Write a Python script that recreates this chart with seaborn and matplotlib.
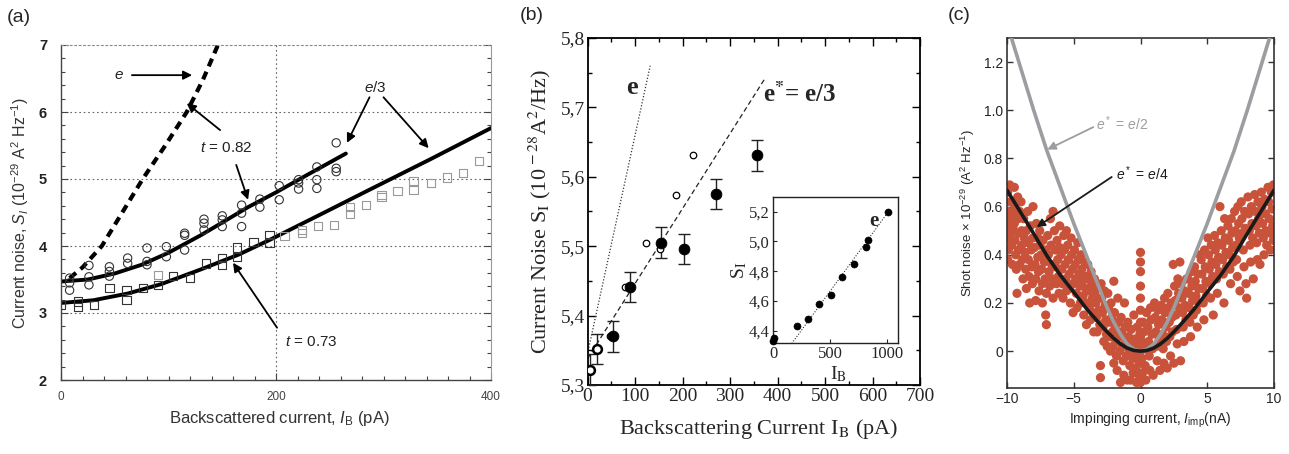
import matplotlib
matplotlib.use("Agg")
import matplotlib.pyplot as plt
import seaborn as sns
from matplotlib.ticker import MultipleLocator

sns.set_style("ticks")
plt.rcParams['font.family'] = ['Liberation Sans', 'DejaVu Sans']
plt.rcParams['mathtext.fontset'] = 'custom'
plt.rcParams['mathtext.rm'] = 'Liberation Sans'
plt.rcParams['mathtext.it'] = 'Liberation Sans:italic'
plt.rcParams['mathtext.bf'] = 'Liberation Sans:bold'

# ---------------- Panel (a) data ----------------
a_e_I = [8, 20, 38, 57, 76, 97, 117, 132, 146]
a_e_S = [3.52, 3.68, 4.0, 4.5, 5.0, 5.5, 6.0, 6.48, 7.0]
a_t82_I = [0, 25, 50, 75, 100, 130, 150, 174, 200, 230, 265]
a_t82_S = [3.47, 3.50, 3.59, 3.72, 3.90, 4.16, 4.35, 4.58, 4.80, 5.07, 5.38]
a_t73_I = [0, 30, 62, 93, 130, 165, 194, 245, 287, 343, 400]
a_t73_S = [3.15, 3.19, 3.29, 3.43, 3.65, 3.87, 4.09, 4.50, 4.84, 5.29, 5.76]
a_circ_I = [8, 8, 8, 26, 26, 26, 45, 45, 45, 62, 62, 80, 80, 80, 98, 98,
            115, 115, 115, 133, 133, 133, 150, 150, 150, 168, 168, 168,
            185, 185, 203, 203, 221, 221, 221, 238, 238, 238, 256, 256, 256]
a_circ_S = [3.52, 3.34, 3.45, 3.71, 3.54, 3.42, 3.69, 3.62, 3.55, 3.82, 3.74,
            3.97, 3.77, 3.72, 3.99, 3.84, 4.19, 4.16, 3.94, 4.40, 4.34, 4.24,
            4.45, 4.39, 4.29, 4.61, 4.49, 4.29, 4.70, 4.58, 4.90, 4.69,
            4.99, 4.94, 4.85, 5.18, 4.99, 4.86, 5.54, 5.16, 5.11]
a_sq_I = [0, 16, 16, 31, 45, 61, 61, 76, 90, 104, 120, 135, 150, 150,
          164, 164, 179, 194, 194]
a_sq_S = [3.12, 3.17, 3.09, 3.12, 3.37, 3.34, 3.19, 3.37, 3.42, 3.55, 3.52,
          3.74, 3.82, 3.72, 3.98, 3.84, 4.06, 4.16, 4.05]
a_sqf_I = [90, 208, 224, 224, 239, 254, 269, 269, 284, 298, 298, 313, 328,
           328, 344, 359, 374, 389]
a_sqf_S = [3.57, 4.15, 4.19, 4.24, 4.30, 4.31, 4.58, 4.48, 4.61, 4.76, 4.73,
           4.82, 4.97, 4.84, 4.94, 5.02, 5.09, 5.27]
a_xticks = [0, 200, 400]
a_yticks = [2, 3, 4, 5, 6, 7]
a_grid_y = [3, 4, 5, 6]
a_grid_x = [200]

# ---------------- Panel (b) data ----------------
b_fill_I = [54, 89.5, 154, 203, 270, 356]
b_fill_S = [5.370, 5.441, 5.505, 5.496, 5.575, 5.631]
b_fill_err = [0.022, 0.022, 0.022, 0.022, 0.022, 0.022]
b_bold_I = [5, 21]
b_bold_S = [5.322, 5.352]
b_bold_err = [0.022, 0.022]
b_open_I = [47, 79, 122.5, 152, 186, 223]
b_open_S = [5.370, 5.441, 5.505, 5.496, 5.574, 5.632]
b_e_I = [0, 132]
b_e_S = [5.345, 5.76]
b_e3_I = [0, 372]
b_e3_S = [5.338, 5.74]
b_xticks = [0, 100, 200, 300, 400, 500, 600, 700]
b_yticks = [5.3, 5.4, 5.5, 5.6, 5.7, 5.8]
b_yticklabels = ["5,3", "5,4", "5,5", "5,6", "5,7", "5,8"]
ins_I = [0, 5, 206, 308, 405, 507, 607, 713, 814, 837, 1013]
ins_S = [4.335, 4.35, 4.43, 4.48, 4.58, 4.64, 4.76, 4.85, 4.96, 5.01, 5.20]
ins_line_I = [162, 1013]
ins_line_S = [4.315, 5.2]
ins_xticks = [0, 500, 1000]
ins_yticks = [4.4, 4.6, 4.8, 5.0, 5.2]
ins_yticklabels = ["4,4", "4,6", "4,8", "5,0", "5,2"]

# ---------------- Panel (c) data ----------------
c_curve_x = [-10, -9, -8, -7, -6, -5, -4, -3, -2.5, -2, -1.5, -1, -0.5, 0,
             0.5, 1, 1.5, 2, 2.5, 3, 4, 5, 6, 7, 8, 9, 10]
c_e4 = [0.668, 0.578, 0.488, 0.395, 0.315, 0.245, 0.173, 0.11, 0.08, 0.053,
        0.03, 0.013, 0.003, 0.0, 0.003, 0.013, 0.03, 0.053, 0.08, 0.11,
        0.173, 0.245, 0.315, 0.395, 0.488, 0.578, 0.668]
c_e2 = [1.36, 1.18, 1.0, 0.83, 0.68, 0.53, 0.39, 0.25, 0.18, 0.12, 0.07,
        0.03, 0.008, 0.0, 0.008, 0.03, 0.07, 0.12, 0.18, 0.25, 0.39, 0.53,
        0.68, 0.83, 1.0, 1.18, 1.36]
c_pts = [
    (-9.95, 0.66), (-9.9, 0.58), (-9.92, 0.52), (-9.95, 0.47), (-9.9, 0.42), (-9.95, 0.38),
    (-9.8, 0.69), (-9.75, 0.62), (-9.7, 0.55), (-9.7, 0.49), (-9.65, 0.44), (-9.6, 0.62),
    (-9.55, 0.57), (-9.55, 0.51), (-9.6, 0.36),
    (-9.45, 0.68), (-9.4, 0.6), (-9.45, 0.53), (-9.4, 0.46), (-9.35, 0.4), (-9.25, 0.24),
    (-9.3, 0.34), (-9.2, 0.64), (-9.15, 0.55), (-9.1, 0.49), (-9.15, 0.42), (-9.05, 0.58),
    (-9.05, 0.36),
    (-8.95, 0.62), (-8.9, 0.5), (-8.9, 0.44), (-8.85, 0.38), (-8.8, 0.3), (-8.75, 0.55),
    (-8.7, 0.47), (-8.65, 0.41), (-8.6, 0.34), (-8.55, 0.5), (-8.55, 0.26),
    (-8.45, 0.58), (-8.4, 0.45), (-8.4, 0.38), (-8.35, 0.31), (-8.3, 0.2), (-8.25, 0.52),
    (-8.2, 0.42), (-8.15, 0.35), (-8.1, 0.28), (-8.05, 0.6), (-8.05, 0.47),
    (-7.95, 0.43), (-7.9, 0.36), (-7.85, 0.3), (-7.85, 0.21), (-7.8, 0.53), (-7.7, 0.47),
    (-7.7, 0.39), (-7.65, 0.33), (-7.6, 0.25), (-7.55, 0.44), (-7.55, 0.5),
    (-7.45, 0.4), (-7.4, 0.34), (-7.35, 0.28), (-7.35, 0.2), (-7.3, 0.46), (-7.2, 0.37),
    (-7.15, 0.3), (-7.1, 0.15), (-7.05, 0.11), (-7.1, 0.42), (-7.05, 0.24),
    (-6.95, 0.48), (-6.9, 0.4), (-6.85, 0.33), (-6.8, 0.27), (-6.75, 0.55), (-6.7, 0.44),
    (-6.65, 0.36), (-6.6, 0.3), (-6.55, 0.58), (-6.55, 0.22),
    (-6.45, 0.5), (-6.4, 0.42), (-6.35, 0.35), (-6.3, 0.28), (-6.25, 0.46), (-6.2, 0.38),
    (-6.15, 0.31), (-6.1, 0.24), (-6.05, 0.52), (-6.05, 0.43),
    (-5.95, 0.4), (-5.9, 0.34), (-5.85, 0.28), (-5.8, 0.22), (-5.75, 0.48), (-5.7, 0.42),
    (-5.65, 0.36), (-5.6, 0.3), (-5.55, 0.25), (-5.55, 0.5),
    (-5.45, 0.44), (-5.4, 0.38), (-5.35, 0.32), (-5.3, 0.26), (-5.25, 0.2), (-5.2, 0.47),
    (-5.15, 0.4), (-5.1, 0.34), (-5.05, 0.28), (-5.05, 0.16),
    (-4.95, 0.42), (-4.9, 0.36), (-4.85, 0.3), (-4.8, 0.24), (-4.75, 0.18), (-4.7, 0.45),
    (-4.65, 0.38), (-4.6, 0.32), (-4.55, 0.27), (-4.5, 0.2),
    (-4.45, 0.4), (-4.4, 0.34), (-4.35, 0.29), (-4.3, 0.23), (-4.25, 0.15), (-4.2, 0.37),
    (-4.15, 0.31), (-4.1, 0.26), (-4.05, 0.2), (-4.05, 0.11),
    (-3.95, 0.36), (-3.9, 0.3), (-3.85, 0.25), (-3.8, 0.19), (-3.75, 0.13), (-3.7, 0.33),
    (-3.65, 0.28), (-3.6, 0.22), (-3.55, 0.16), (-3.5, 0.08),
    (-3.45, 0.3), (-3.4, 0.25), (-3.35, 0.2), (-3.3, 0.14), (-3.25, 0.08), (-3.2, 0.27),
    (-3.15, 0.22), (-3.1, 0.17), (-3.05, 0.11), (-3.0, -0.06), (-3.0, -0.11),
    (-2.95, 0.28), (-2.9, 0.22), (-2.85, 0.16), (-2.8, 0.1), (-2.75, 0.04), (-2.7, 0.25),
    (-2.65, 0.19), (-2.6, 0.13), (-2.55, 0.07), (-2.5, 0.02),
    (-2.45, 0.24), (-2.4, 0.18), (-2.35, 0.12), (-2.3, 0.06), (-2.25, 0.0), (-2.2, 0.2),
    (-2.15, 0.14), (-2.1, 0.08), (-2.05, 0.02), (-2.0, 0.29), (-2.0, -0.05),
    (-1.95, 0.16), (-1.9, 0.1), (-1.85, 0.04), (-1.8, -0.02), (-1.75, -0.08), (-1.7, 0.22),
    (-1.65, 0.12), (-1.6, 0.06), (-1.55, 0.0), (-1.5, -0.13),
    (-1.45, 0.14), (-1.4, 0.08), (-1.35, 0.02), (-1.3, -0.04), (-1.25, -0.1), (-1.2, 0.2),
    (-1.15, 0.1), (-1.1, 0.04), (-1.05, -0.02), (-1.0, -0.12),
    (-0.95, 0.12), (-0.9, 0.06), (-0.85, 0.0), (-0.8, -0.06), (-0.75, -0.12), (-0.7, 0.09),
    (-0.65, 0.03), (-0.6, -0.03), (-0.55, -0.09), (-0.5, 0.15),
    (-0.45, 0.05), (-0.4, -0.01), (-0.35, -0.07), (-0.3, -0.13), (-0.25, 0.1), (-0.2, 0.02),
    (-0.15, -0.04), (-0.1, -0.1), (-0.05, 0.07),
    (0, 0.41), (0, 0.37), (0, 0.33), (0, 0.27), (0, 0.22), (0, 0.17), (0, 0.12), (0, 0.06),
    (0, 0.0), (0, -0.05), (0, -0.1), (0, -0.13),
    (0.05, 0.04), (0.1, -0.03), (0.15, -0.09), (0.2, 0.12), (0.25, 0.08), (0.3, 0.01),
    (0.35, -0.06), (0.4, -0.12), (0.45, 0.16),
    (0.55, 0.1), (0.6, 0.04), (0.65, -0.02), (0.7, -0.08), (0.75, 0.18), (0.8, 0.13),
    (0.85, 0.07), (0.9, 0.01), (0.95, -0.1),
    (1.05, 0.2), (1.1, 0.14), (1.15, 0.08), (1.2, 0.02), (1.25, -0.04), (1.3, 0.17),
    (1.35, 0.11), (1.4, 0.05), (1.45, -0.08),
    (1.55, 0.19), (1.6, 0.13), (1.65, 0.07), (1.7, 0.01), (1.75, -0.05), (1.8, 0.22),
    (1.85, 0.16), (1.9, 0.1), (1.95, 0.04), (2.0, -0.07),
    (2.05, 0.24), (2.1, 0.18), (2.15, 0.12), (2.2, 0.06), (2.25, -0.02), (2.3, 0.2),
    (2.35, 0.14), (2.4, 0.08), (2.45, 0.36), (2.5, -0.05),
    (2.55, 0.27), (2.6, 0.21), (2.65, 0.15), (2.7, 0.09), (2.75, 0.03), (2.8, 0.3),
    (2.85, 0.24), (2.9, 0.18), (2.95, 0.37), (3.0, -0.04),
    (3.05, 0.28), (3.1, 0.22), (3.15, 0.16), (3.2, 0.1), (3.25, 0.04), (3.3, 0.25),
    (3.35, 0.19), (3.4, 0.13), (3.45, 0.3),
    (3.55, 0.3), (3.6, 0.24), (3.65, 0.18), (3.7, 0.12), (3.75, 0.06), (3.8, 0.33),
    (3.85, 0.27), (3.9, 0.21), (3.95, 0.15),
    (4.05, 0.35), (4.1, 0.29), (4.15, 0.23), (4.2, 0.17), (4.25, 0.1), (4.3, 0.32),
    (4.35, 0.26), (4.4, 0.2), (4.45, 0.4),
    (4.55, 0.38), (4.6, 0.32), (4.65, 0.26), (4.7, 0.2), (4.75, 0.13), (4.8, 0.42),
    (4.85, 0.35), (4.9, 0.29), (4.95, 0.23),
    (5.05, 0.47), (5.1, 0.4), (5.15, 0.34), (5.2, 0.28), (5.25, 0.22), (5.3, 0.44),
    (5.35, 0.37), (5.4, 0.31), (5.45, 0.15),
    (5.55, 0.48), (5.6, 0.42), (5.65, 0.36), (5.7, 0.3), (5.75, 0.24), (5.8, 0.45),
    (5.85, 0.39), (5.9, 0.33), (5.95, 0.6),
    (6.05, 0.5), (6.1, 0.44), (6.15, 0.38), (6.2, 0.32), (6.25, 0.2), (6.3, 0.55),
    (6.35, 0.47), (6.4, 0.41), (6.45, 0.35),
    (6.55, 0.52), (6.6, 0.46), (6.65, 0.4), (6.7, 0.34), (6.75, 0.28), (6.8, 0.55),
    (6.85, 0.49), (6.9, 0.43), (6.95, 0.37),
    (7.05, 0.58), (7.1, 0.5), (7.15, 0.44), (7.2, 0.38), (7.25, 0.31), (7.3, 0.6),
    (7.35, 0.53), (7.4, 0.47), (7.45, 0.25),
    (7.55, 0.62), (7.6, 0.55), (7.65, 0.49), (7.7, 0.42), (7.75, 0.35), (7.8, 0.58),
    (7.85, 0.51), (7.9, 0.28), (7.95, 0.22),
    (8.05, 0.64), (8.1, 0.57), (8.15, 0.5), (8.2, 0.44), (8.25, 0.37), (8.3, 0.6),
    (8.35, 0.53), (8.4, 0.47), (8.45, 0.3),
    (8.55, 0.65), (8.6, 0.58), (8.65, 0.52), (8.7, 0.45), (8.75, 0.38), (8.8, 0.62),
    (8.85, 0.55), (8.9, 0.49), (8.95, 0.36),
    (9.05, 0.66), (9.1, 0.6), (9.15, 0.53), (9.2, 0.47), (9.25, 0.4), (9.3, 0.63),
    (9.35, 0.57), (9.4, 0.5), (9.45, 0.44),
    (9.55, 0.68), (9.6, 0.62), (9.65, 0.55), (9.7, 0.49), (9.75, 0.42), (9.8, 0.66),
    (9.85, 0.59), (9.9, 0.52), (9.95, 0.46), (9.95, 0.69),
]
c_pts_x = [p[0] for p in c_pts]
c_pts_y = [p[1] for p in c_pts]
c_xticks = [-10, -5, 0, 5, 10]
c_xticklabels = ["\u221210", "\u22125", "0", "5", "10"]
c_yticks = [0, 0.2, 0.4, 0.6, 0.8, 1.0, 1.2]
c_yticklabels = ["0", "0.2", "0.4", "0.6", "0.8", "1.0", "1.2"]

# ---------------- Figure ----------------
W, H = 1289, 454
fig = plt.figure(figsize=(W / 100, H / 100), dpi=100)


def box(l, t, r, b):
    return [l / W, 1 - b / H, (r - l) / W, (b - t) / H]


# ================= Panel (a) =================
ax = fig.add_axes(box(61, 45, 491, 380))
ax.set_xlim(0, 400)
ax.set_ylim(2, 7)
for yv in a_grid_y:
    ax.axhline(yv, color='#666666', lw=0.8, ls=(0, (1.5, 2.5)), zorder=0)
for xv in a_grid_x:
    ax.axvline(xv, color='#666666', lw=0.8, ls=(0, (1.5, 2.5)), zorder=0)
sns.lineplot(x=a_e_I, y=a_e_S, ax=ax, color='black', lw=3.0,
             linestyle=(0, (2.0, 1.4)), sort=False)
sns.lineplot(x=a_t82_I, y=a_t82_S, ax=ax, color='black', lw=2.8)
sns.lineplot(x=a_t73_I, y=a_t73_S, ax=ax, color='black', lw=2.8)
sns.scatterplot(x=a_circ_I, y=a_circ_S, ax=ax, marker='o', s=36,
                fc='none', ec='#333333', linewidth=0.8, zorder=3)
sns.scatterplot(x=a_sq_I, y=a_sq_S, ax=ax, marker='s', s=36,
                fc='none', ec='#333333', linewidth=0.8, zorder=3)
sns.scatterplot(x=a_sqf_I, y=a_sqf_S, ax=ax, marker='s', s=36,
                fc='none', ec='#999999', linewidth=0.8, zorder=3)
ax.set_xticks(a_xticks)
ax.set_yticks(a_yticks)
ax.xaxis.set_minor_locator(MultipleLocator(20))
ax.yaxis.set_minor_locator(MultipleLocator(0.2))
ax.tick_params(which='both', direction='in', left=True, right=True,
               bottom=True, top=False, color='#444444', width=0.8)
ax.tick_params(which='major', length=5)
ax.tick_params(which='minor', length=3)
ax.tick_params(axis='y', labelsize=10.5, pad=10, labelcolor='#222222')
ax.tick_params(axis='x', labelsize=8.5, pad=8, labelcolor='#444444')
for lbl in ax.get_yticklabels():
    lbl.set_fontweight('bold')
for s in ['left', 'bottom']:
    ax.spines[s].set_color('#444444')
    ax.spines[s].set_linewidth(1.0)
ax.spines['right'].set_color('#999999')
ax.spines['right'].set_linewidth(0.8)
ax.spines['top'].set_color('#888888')
ax.spines['top'].set_linewidth(0.8)
ax.spines['top'].set_linestyle((0, (1.5, 2.5)))
ax.set_xlabel("Backscattered current, $I_\\mathrm{B}$ (pA)", fontsize=12,
              color='#333333')
ax.set_ylabel("Current noise, $S_I$ (10$^{-29}$ A$^2$ Hz$^{-1}$)", fontsize=11.5,
              color='#333333')
ax.xaxis.set_label_coords(0.507, -0.088)
ax.yaxis.set_label_coords(-0.07, 0.5)

arw = dict(arrowstyle='-|>', color='black', lw=1.3, mutation_scale=13,
           shrinkA=0, shrinkB=0)
ax.text(54, 6.55, "$e$", fontsize=11, ha='center', va='center', color='#222222')
ax.annotate("", xy=(122, 6.55), xytext=(66, 6.55), arrowprops=arw)
ax.text(292, 6.36, "$e$/3", fontsize=11, ha='center', va='center', color='#222222')
ax.annotate("", xy=(266, 5.54), xytext=(287, 6.22), arrowprops=arw)
ax.annotate("", xy=(342, 5.46), xytext=(300, 6.22), arrowprops=arw)
ax.text(154, 5.46, "$t$ = 0.82", fontsize=11, ha='center', va='center', color='#222222')
ax.annotate("", xy=(117, 6.13), xytext=(148, 5.73), arrowprops=arw)
ax.annotate("", xy=(174, 4.69), xytext=(163, 5.21), arrowprops=arw)
ax.text(233, 2.57, "$t$ = 0.73", fontsize=11, ha='center', va='center', color='#222222')
ax.annotate("", xy=(160, 3.75), xytext=(201, 2.78), arrowprops=arw)
fig.text(7 / W, 1 - 17 / H, "(a)", fontsize=14, ha='left', va='center')

# ================= Panel (b) =================
serif = ['Liberation Serif', 'DejaVu Serif']
axb = fig.add_axes(box(587.5, 38, 920, 385))
axb.set_xlim(0, 700)
axb.set_ylim(5.3, 5.8)
sns.lineplot(x=b_e_I, y=b_e_S, ax=axb, color='#333333', lw=0.9,
             linestyle=(0, (1, 1.5)))
sns.lineplot(x=b_e3_I, y=b_e3_S, ax=axb, color='#222222', lw=0.9,
             linestyle=(0, (4, 2.5)))
axb.errorbar(b_fill_I, b_fill_S, yerr=b_fill_err, fmt='none', ecolor='#222222',
             elinewidth=1.0, capsize=4, capthick=1.0, zorder=3)
axb.errorbar(b_bold_I, b_bold_S, yerr=b_bold_err, fmt='none', ecolor='#222222',
             elinewidth=1.0, capsize=4, capthick=1.0, zorder=3)
sns.scatterplot(x=b_open_I, y=b_open_S, ax=axb, marker='o', s=22,
                fc='white', ec='black', linewidth=0.9, zorder=4)
sns.scatterplot(x=b_fill_I, y=b_fill_S, ax=axb, marker='o', s=60,
                color='black', ec='black', zorder=5)
sns.scatterplot(x=b_bold_I, y=b_bold_S, ax=axb, marker='o', s=40,
                fc='white', ec='black', linewidth=1.8, zorder=5)
axb.set_xticks(b_xticks)
axb.set_yticks(b_yticks)
axb.set_yticklabels(b_yticklabels)
axb.xaxis.set_minor_locator(MultipleLocator(50))
axb.yaxis.set_minor_locator(MultipleLocator(0.05))
axb.tick_params(which='both', direction='in', top=True, right=True,
                left=True, bottom=True, width=1.0, color='black')
axb.tick_params(which='major', length=6)
axb.tick_params(which='minor', length=3)
axb.tick_params(axis='both', labelsize=14, pad=2)
for lbl in axb.get_xticklabels() + axb.get_yticklabels():
    lbl.set_family(serif)
for s in axb.spines.values():
    s.set_linewidth(1.3)
    s.set_color('black')
axb.set_xlabel("Backscattering Current I$_\\mathrm{B}$ (pA)", fontsize=16,
               family=serif, math_fontfamily='stix')
axb.set_ylabel("Current Noise S$_\\mathrm{I}$ (10$^{\\,-28}$A$^2$/Hz)", fontsize=16,
               family=serif, math_fontfamily='stix')
axb.xaxis.set_label_coords(0.513, -0.093)
axb.yaxis.set_label_coords(-0.105, 0.5)
axb.text(93, 5.729, "e", fontsize=19, fontweight='bold', family=serif,
         ha='center', va='center')
axb.text(370, 5.718, "e$^{\\mathbf{*}}$= e/3", fontsize=18, fontweight='bold',
         family=serif, math_fontfamily='stix', ha='left', va='center')
fig.text(520 / W, 1 - 15 / H, "(b)", fontsize=14, ha='left', va='center')

# inset
axi = fig.add_axes(box(772.7, 196.7, 898.3, 343.3))
axi.set_xlim(-5, 1100)
axi.set_ylim(4.317, 5.30)
sns.lineplot(x=ins_line_I, y=ins_line_S, ax=axi, color='#333333', lw=0.8,
             linestyle=(0, (1, 1.5)))
sns.scatterplot(x=ins_I, y=ins_S, ax=axi, marker='o', s=26, color='black',
                ec='black', zorder=4, clip_on=False)
axi.set_xticks(ins_xticks)
axi.set_yticks(ins_yticks)
axi.set_yticklabels(ins_yticklabels)
axi.tick_params(which='both', direction='in', length=3, width=0.8,
                labelsize=12, pad=2)
for lbl in axi.get_xticklabels() + axi.get_yticklabels():
    lbl.set_family(serif)
for s in axi.spines.values():
    s.set_linewidth(1.0)
    s.set_color('#222222')
axi.set_xlabel("I$_\\mathrm{B}$", fontsize=14, family=serif, math_fontfamily='stix')
axi.set_ylabel("S$_\\mathrm{I}$", fontsize=14, family=serif, math_fontfamily='stix')
axi.xaxis.set_label_coords(0.52, -0.14)
axi.yaxis.set_label_coords(-0.19, 0.5)
axi.text(884, 5.14, "e", fontsize=15, fontweight='bold', family=serif,
         ha='center', va='center')

# ================= Panel (c) =================
axc = fig.add_axes(box(1007, 38, 1274, 388))
axc.set_xlim(-10, 10)
axc.set_ylim(-0.153, 1.30)
sns.scatterplot(x=c_pts_x, y=c_pts_y, ax=axc, marker='o', s=44,
                color='#c8523a', ec='none', zorder=2)
sns.lineplot(x=c_curve_x, y=c_e2, ax=axc, color='#9c9da1', lw=2.6, zorder=3)
sns.lineplot(x=c_curve_x, y=c_e4, ax=axc, color='#1a1a1a', lw=2.6, zorder=4)
axc.set_xticks(c_xticks)
axc.set_xticklabels(c_xticklabels)
axc.set_yticks(c_yticks)
axc.set_yticklabels(c_yticklabels)
axc.tick_params(which='both', direction='in', top=True, right=True,
                length=4, width=1.0, color='#333333', labelsize=10, pad=3)
for s in axc.spines.values():
    s.set_linewidth(1.2)
    s.set_color('#333333')
axc.set_xlabel("Impinging current, $I_\\mathrm{imp}$(nA)", fontsize=10)
axc.set_ylabel("Shot noise \u00d7 10$^{-29}$ (A$^2$ Hz$^{-1}$)", fontsize=9.5)
axc.xaxis.set_label_coords(0.535, -0.065)
axc.yaxis.set_label_coords(-0.112, 0.5)
axc.text(-3.3, 0.945, "$e^*$ = $e$/2", fontsize=10, color='#9c9da1',
         ha='left', va='center')
axc.annotate("", xy=(-6.98, 0.837), xytext=(-3.54, 0.93),
             arrowprops=dict(arrowstyle='-|>', color='#9c9da1', lw=1.3,
                             mutation_scale=12, shrinkA=0, shrinkB=0))
axc.text(-1.8, 0.737, "$e^*$ = $e$/4", fontsize=10, color='#1a1a1a',
         ha='left', va='center')
axc.annotate("", xy=(-7.78, 0.515), xytext=(-2.16, 0.723),
             arrowprops=dict(arrowstyle='-|>', color='#1a1a1a', lw=1.3,
                             mutation_scale=12, shrinkA=0, shrinkB=0))
fig.text(948 / W, 1 - 15 / H, "(c)", fontsize=14, ha='left', va='center')

fig.savefig("out.png", dpi=100)
